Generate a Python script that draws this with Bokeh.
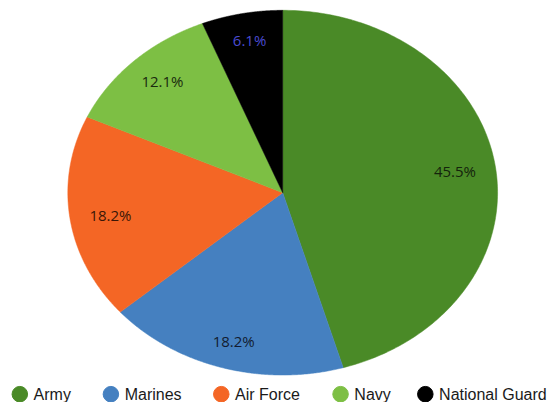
import numpy as np
from bokeh.plotting import figure
from bokeh.models import Range1d, ColumnDataSource
from bokeh.core.properties import value
from bokeh.embed import file_html
from bokeh.resources import INLINE

# ---- data ----
branches = ["Army", "Marines", "Air Force", "Navy", "National Guard"]
percents = [45.5, 18.2, 18.2, 12.1, 6.1]
slice_colors = ["#4a8a27", "#4580c0", "#f46625", "#7dbf44", "#000000"]
label_colors = ["#14240c", "#121c30", "#3a1606", "#1a2a0e", "#4b4bd0"]

# ---- layout (reference pixels, mapped onto a canvas that fits the window) ----
REF_W, REF_H = 558, 410
W, H = 550, 402
cx, cy, rx, ry = 286.3, 196.0, 218.0, 186.0
lab_fx, lab_fy = 0.81, 0.85
legend_y = 401.5
legend_dot_x = [19.6, 112.0, 224.0, 345.0, 431.0]
legend_gap = 14.0

p = figure(width=W, height=H, output_backend="svg", toolbar_location=None,
           x_range=Range1d(0, REF_W), y_range=Range1d(REF_H, 0),
           x_axis_type=None, y_axis_type=None, min_border=0,
           outline_line_color=None, background_fill_color="white",
           border_fill_color="white")
p.grid.visible = False

vals = np.array(percents, dtype=float)
fr = vals / vals.sum()
ends = np.cumsum(fr) * 2 * np.pi
starts = ends - fr * 2 * np.pi

xs, ys, lx, ly = [], [], [], []
for s, e in zip(starts, ends):
    t = np.linspace(s, e, 200)
    xs.append([cx] + list(cx + rx * np.sin(t)))
    ys.append([cy] + list(cy - ry * np.cos(t)))
    m = (s + e) / 2
    lx.append(cx + rx * lab_fx * np.sin(m))
    ly.append(cy - ry * lab_fy * np.cos(m))

src = ColumnDataSource(dict(xs=xs, ys=ys, color=slice_colors, name=branches))
p.patches("xs", "ys", source=src, fill_color="color", line_color="color", line_width=0.5)

labels = [f"{v:.1f}%" for v in percents]
lsrc = ColumnDataSource(dict(x=lx, y=ly, text=labels, color=label_colors))
p.text("x", "y", text="text", source=lsrc, text_color="color",
       text_font=value("Open Sans"), text_font_size="15px",
       text_align="center", text_baseline="middle")

# legend
gsrc = ColumnDataSource(dict(x=legend_dot_x, y=[legend_y] * len(branches),
                             tx=[x + legend_gap for x in legend_dot_x],
                             color=slice_colors, name=branches))
p.scatter("x", "y", source=gsrc, size=15.5, marker="circle",
          fill_color="color", line_color="color")
p.text("tx", "y", text="name", source=gsrc, text_color="#1a1a1a",
       text_font=value("Liberation Sans"), text_font_size="16px",
       text_align="left", text_baseline="middle")

open("out.html", "w").write(file_html(p, INLINE))
